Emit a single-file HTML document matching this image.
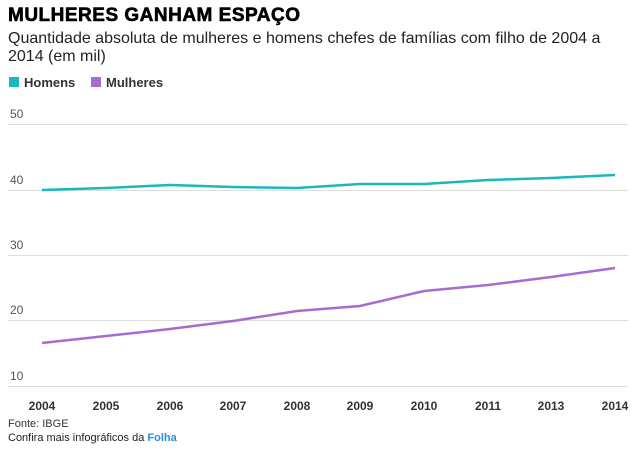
<!DOCTYPE html>
<html><head><meta charset="utf-8"><style>
body{margin:0;background:#fff;width:639px;height:446px;overflow:hidden;font-family:"Liberation Sans",Arial,sans-serif;}
</style></head><body>
<svg width="639" height="446" xmlns="http://www.w3.org/2000/svg" font-family="Liberation Sans, Arial, sans-serif">
<text x="8" y="21" font-size="19" font-weight="bold" fill="#000" stroke="#000" stroke-width="0.6" letter-spacing="0.5">MULHERES GANHAM ESPAÇO</text>
<text x="8" y="43" font-size="16" fill="#222">Quantidade absoluta de mulheres e homens chefes de famílias com filho de 2004 a</text>
<text x="8" y="61" font-size="16" fill="#222">2014 (em mil)</text>
<rect x="9" y="77" width="10" height="10" fill="#19b8bf"/>
<text x="24" y="87" font-size="13" font-weight="bold" fill="#333">Homens</text>
<rect x="91" y="77" width="10" height="10" fill="#a76bd4"/>
<text x="106" y="87" font-size="13" font-weight="bold" fill="#333">Mulheres</text>
<g stroke="#ddd" stroke-width="1">
<line x1="8" y1="124.5" x2="628" y2="124.5"/>
<line x1="8" y1="190.5" x2="628" y2="190.5"/>
<line x1="8" y1="255.5" x2="628" y2="255.5"/>
<line x1="8" y1="320.5" x2="628" y2="320.5"/>
<line x1="8" y1="386.5" x2="628" y2="386.5"/>
</g>
<g font-size="12" fill="#555">
<text x="10" y="118">50</text><text x="10" y="184">40</text><text x="10" y="249">30</text><text x="10" y="314">20</text><text x="10" y="380">10</text>
</g>
<polyline fill="none" stroke="#19b8bf" stroke-width="2.5" points="42,190 106,188 170,185 233,187 297,188 360,184 424,184 488,180 551,178 615,175"/>
<polyline fill="none" stroke="#a76bd4" stroke-width="2.5" points="42,343 106,336 170,329 233,321 297,311 360,306 424,291 488,285 551,277 615,268"/>
<g font-size="12" font-weight="bold" fill="#333" text-anchor="middle">
<text x="42" y="410">2004</text><text x="106" y="410">2005</text><text x="170" y="410">2006</text><text x="233" y="410">2007</text><text x="297" y="410">2008</text><text x="360" y="410">2009</text><text x="424" y="410">2010</text><text x="488" y="410">2011</text><text x="551" y="410">2013</text><text x="615" y="410">2014</text>
</g>
<text x="8" y="427" font-size="11" fill="#333">Fonte: IBGE</text>
<text x="8" y="441" font-size="11" fill="#222">Confira mais infográficos da <tspan fill="#2a8fd6" font-weight="bold">Folha</tspan></text>
</svg>
</body></html>
